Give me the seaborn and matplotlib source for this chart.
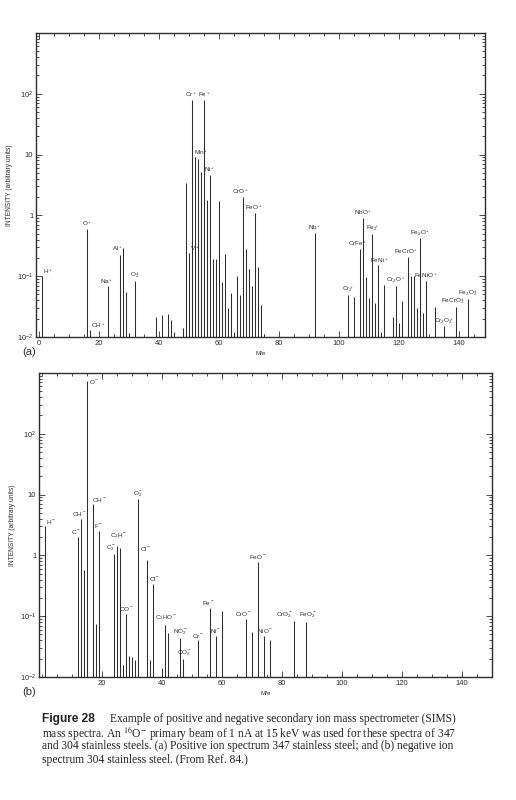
import matplotlib
matplotlib.use("Agg")
import matplotlib.pyplot as plt
from matplotlib.ticker import MultipleLocator, FixedLocator, FixedFormatter, LogLocator, NullFormatter
import pandas as pd
import seaborn as sns

# (a) positive ion spectrum, 347 stainless steel
mass_a = [1, 16, 17, 23, 27, 28, 29, 30, 32, 39, 41, 43, 44, 45, 48,
          49, 50, 51, 52, 53, 54, 55, 56, 57, 58, 59, 60, 61, 62, 63, 64, 65,
          66, 67, 68, 69, 70, 71, 72, 73, 74, 75,
          92, 103, 105, 107, 108, 109, 110, 111, 112, 113, 114, 115, 118, 119,
          120, 121, 123, 124, 125, 126, 127, 128, 129, 132, 135, 139, 143]
inten_a = [0.1, 0.6, 0.013, 0.069, 0.22, 0.29, 0.054, 0.0116, 0.083, 0.021, 0.023, 0.024, 0.019, 0.012, 0.014,
           3.4, 0.24, 80, 9.0, 8.5, 5.2, 80, 1.8, 4.6, 0.19, 0.19, 1.7, 0.08, 0.23, 0.03, 0.052, 0.012,
           0.1, 0.049, 2.0, 0.28, 0.13, 0.07, 1.1, 0.14, 0.034, 0.011,
           0.52, 0.049, 0.046, 0.28, 0.9, 0.096, 0.043, 0.5, 0.036, 0.15, 0.012, 0.071, 0.021, 0.07,
           0.017, 0.039, 0.21, 0.1, 0.1, 0.03, 0.42, 0.025, 0.083, 0.031, 0.015, 0.031, 0.042]
labels_a = {1: "H$^+$", 16: "O$^+$", 17: "OH$^+$", 23: "Na$^+$", 27: "Al$^+$", 32: "O$_2^+$",
            50: "V$^+$", 51: "Cr$^+$", 53: "Mn$^+$", 55: "Fe$^+$", 57: "Ni$^+$", 68: "CrO$^+$",
            72: "FeO$^+$", 92: "Nb$^+$", 103: "Cr$_2^+$", 107: "CrFe$^+$", 108: "NbO$^+$",
            111: "Fe$_2^+$", 113: "FeNi$^+$", 119: "Cr$_2$O$^+$", 123: "FeCrO$^+$",
            127: "Fe$_2$O$^+$", 129: "FeNiO$^+$", 135: "Cr$_2$O$_2^+$", 139: "FeCrO$_2^+$",
            143: "Fe$_2$O$_2^+$"}

# (b) negative ion spectrum, 304 stainless steel
mass_b = [1, 12, 13, 14, 15, 17, 18, 19, 24, 25, 26, 27, 28, 29, 30, 31, 32, 35, 36, 37,
          40, 41, 42, 46, 47, 52, 56, 58, 60, 68, 70, 72, 74, 76, 84, 88]
inten_b = [3.0, 2.0, 4.0, 0.57, 740, 6.9, 0.074, 2.5, 1.05, 1.4, 1.3, 0.016, 0.11, 0.022, 0.021, 0.019, 8.3, 0.83, 0.019, 0.34,
           0.014, 0.071, 0.052, 0.044, 0.02, 0.04, 0.136, 0.048, 0.12, 0.091, 0.055, 0.78, 0.048, 0.04, 0.083, 0.08]
labels_b = {1: "H$^-$", 12: "C$^-$", 13: "CH$^-$", 15: "O$^-$", 17: "OH$^-$", 19: "F$^-$",
            24: "C$_2^-$", 25: "C$_2$H$^-$", 28: "CO$^-$", 32: "O$_2^-$", 35: "Cl$^-$", 37: "Cl$^-$",
            41: "C$_2$HO$^-$", 46: "NO$_2^-$", 47: "CO$_2^-$", 52: "Cr$^-$", 56: "Fe$^-$",
            58: "Ni$^-$", 68: "CrO$^-$", 72: "FeO$^-$", 74: "NiO$^-$", 84: "CrO$_2^-$",
            88: "FeO$_2^-$"}

ytick_vals = [1e-2, 1e-1, 1, 10, 1e2]
ytick_text = ["$10^{-2}$", "$10^{-1}$", "1", "10", "$10^2$"]

# label nudges (points) and alignment
nudge_a = {1: (1, 0, "left"), 17: (1, 0, "left"), 23: (-1, 0, "center"), 27: (-1.5, 2, "center"),
           50: (0.5, 0, "left"), 51: (-0.5, 0.5, "center"), 53: (2, 1, "center"),
           68: (-1.5, 0.5, "center"), 72: (-1, 0.5, "center"), 107: (-1.5, 0.5, "center"),
           113: (1, 0.5, "center"), 123: (-1.5, 0.5, "center"), 139: (-2, 1, "center")}
nudge_b = {1: (1, 0, "left"), 12: (-1.5, 0.5, "center"), 13: (-1.5, 0.5, "center"),
           15: (1.5, -3.5, "left"), 17: (-0.5, 0.5, "left"), 24: (-2, 0.5, "center"),
           25: (1, 5, "center"), 35: (-1, 5, "center"), 37: (1, 0.5, "center"),
           41: (1, 2, "center"), 47: (1, 0.5, "center"), 56: (-1.5, 0.5, "center"),
           68: (-2, 0.5, "center"), 74: (1, 0.5, "center"), 84: (-0.5, 0.5, "right"),
           88: (1, 1.5, "center")}

sns.set_style("ticks", {"xtick.direction": "in", "ytick.direction": "in",
                        "axes.edgecolor": "#222222"})
plt.rcParams["font.family"] = ["Liberation Sans", "DejaVu Sans"]
plt.rcParams["mathtext.fontset"] = "custom"
plt.rcParams["mathtext.rm"] = "Liberation Sans"
plt.rcParams["mathtext.it"] = "Liberation Sans:italic"
plt.rcParams["mathtext.bf"] = "Liberation Sans:bold"

INK = "#2e2e2e"


def spectrum(ax, masses, intens, labels, nudges, xlim, xticks):
    df = pd.DataFrame({"m": masses, "i": intens})
    ax.vlines(df["m"], 1e-2, df["i"], color=INK, lw=0.75)
    ax.set_yscale("log")
    ax.set_ylim(1e-2, 1e3)
    ax.set_xlim(*xlim)
    ax.xaxis.set_major_locator(FixedLocator(xticks))
    ax.xaxis.set_minor_locator(MultipleLocator(5))
    ax.yaxis.set_major_locator(FixedLocator(ytick_vals))
    ax.yaxis.set_major_formatter(FixedFormatter(ytick_text))
    ax.yaxis.set_minor_locator(LogLocator(base=10, subs=range(2, 10)))
    ax.yaxis.set_minor_formatter(NullFormatter())
    ax.tick_params(which="both", top=True, right=True, direction="in",
                   width=0.6, colors=INK, labelsize=5.5, pad=2)
    ax.tick_params(which="major", length=4)
    ax.tick_params(which="minor", length=2.2)
    for s in ax.spines.values():
        s.set_linewidth(1.0)
        s.set_color(INK)
    ax.set_xlabel("M/e", fontsize=4.5, color=INK, labelpad=3)
    ax.set_ylabel("INTENSITY (arbitrary units)", fontsize=4.8, color=INK, labelpad=3)
    for m, txt in labels.items():
        dx, dy, ha = nudges.get(m, (0, 0.5, "center"))
        val = df.loc[df["m"] == m, "i"].iloc[0]
        ax.annotate(txt, (m, val), xytext=(dx, dy), textcoords="offset points",
                    ha=ha, va="bottom", fontsize=4.6, color=INK)


fig = plt.figure(figsize=(5.16, 8), dpi=100)
ax_a = fig.add_axes([0.0698, 0.5788, 0.8702, 0.38])
ax_b = fig.add_axes([0.0756, 0.1538, 0.8779, 0.38])

spectrum(ax_a, mass_a, inten_a, labels_a, nudge_a, (-1, 148.7), [0, 20, 40, 60, 80, 100, 120, 140])
spectrum(ax_b, mass_b, inten_b, labels_b, nudge_b, (-1, 150), [20, 40, 60, 80, 100, 120, 140])

fig.text(22 / 516, 1 - 352 / 800, "(a)", fontsize=8, color=INK, ha="left", va="center")
fig.text(22 / 516, 1 - 692 / 800, "(b)", fontsize=8, color=INK, ha="left", va="center")

serif = ["Liberation Serif", "DejaVu Serif"]
fig.text(42 / 516, 1 - 719 / 800, "Figure 28", fontsize=8.6, weight="bold",
         color="#222222", ha="left", va="center")
caption = [
    "Example of positive and negative secondary ion mass spectrometer (SIMS)",
    "mass spectra. An $^{16}$O$^{-}$ primary beam of 1 nA at 15 keV was used for these spectra of 347",
    "and 304 stainless steels. (a) Positive ion spectrum 347 stainless steel; and (b) negative ion",
    "spectrum 304 stainless steel. (From Ref. 84.)",
]
starts = [110, 42, 42, 42]
rows = [719, 732.5, 746, 759.5]
for txt, x0, y0 in zip(caption, starts, rows):
    fig.text(x0 / 516, 1 - y0 / 800, txt, fontsize=8.3, family=serif,
             math_fontfamily="stix", color="#222222", ha="left", va="center")

fig.savefig("out.png", dpi=100, facecolor="white")
